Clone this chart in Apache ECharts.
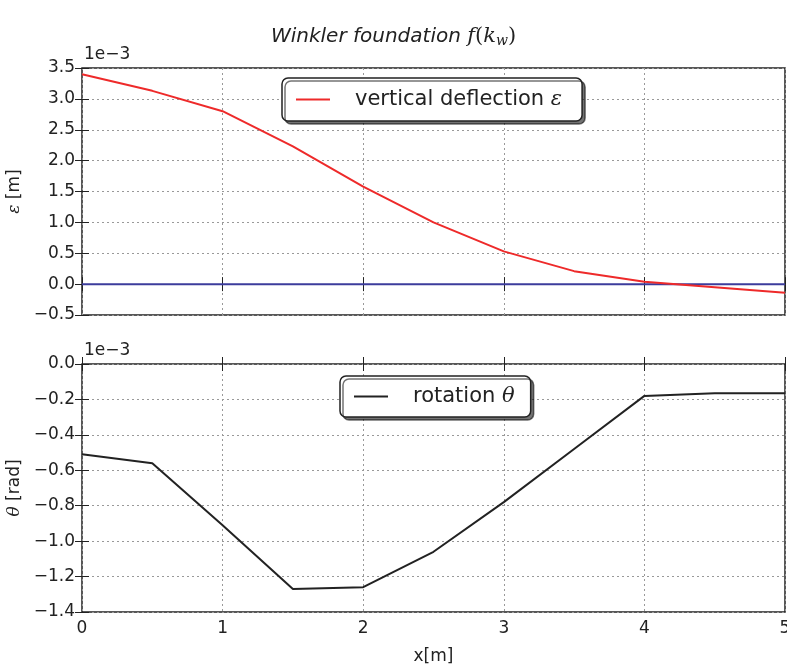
<!DOCTYPE html>
<html>
<head>
<meta charset="utf-8">
<script src="https://cdn.jsdelivr.net/npm/echarts@6/dist/echarts.min.js"></script>
<style>
  html, body { margin: 0; padding: 0; background: #fff; }
  #main { width: 787px; height: 668px; }
</style>
</head>
<body>
<div id="main"></div>
<script>
// x positions [m]
var xs = [0, 0.5, 1, 1.5, 2, 2.5, 3, 3.5, 4, 4.5, 5];
// vertical deflection, in units of 1e-3 m
var deflection = [3.40, 3.13, 2.80, 2.23, 1.58, 1.00, 0.53, 0.21, 0.04, -0.05, -0.14];
// rotation, in units of 1e-3 rad
var rotation = [-0.51, -0.56, -0.91, -1.27, -1.26, -1.06, -0.78, -0.48, -0.18, -0.165, -0.165];
// zero reference line
var zeroLine = [0, 0, 0, 0, 0, 0, 0, 0, 0, 0, 0];

var font = 'DejaVu Sans';
var fmt = function (v) {
    var s = (Math.abs(v) < 1e-9 ? 0 : v).toFixed(1);
    return s.replace('-', '\u2212');
};

var myChart = echarts.init(document.getElementById('main'));

function pairs(ys) {
    return xs.map(function (x, i) { return [x, ys[i]]; });
}

var gridStyle = { show: true, lineStyle: { color: '#999', type: [2, 3], width: 1 } };
var axisLine = { show: false };

function xAx(gi, pos, labels) {
    return {
        type: 'value', gridIndex: gi, position: pos, min: 0, max: 5, interval: 1,
        axisLine: axisLine,
        axisTick: { show: true, inside: true, length: 7, lineStyle: { color: '#222', width: 1 } },
        axisLabel: { show: labels, color: '#222', fontFamily: font, fontSize: 17, margin: 8 },
        splitLine: pos === 'bottom' ? gridStyle : { show: false },
        name: labels ? 'x[m]' : '',
        nameLocation: 'middle', nameGap: 36,
        nameTextStyle: { color: '#222', fontFamily: font, fontSize: 17 }
    };
}
function yAx(gi, pos, min, max, step, name) {
    var left = pos === 'left';
    return {
        type: 'value', gridIndex: gi, position: pos, min: min, max: max, interval: step,
        axisLine: axisLine,
        axisTick: { show: true, inside: true, length: 7, lineStyle: { color: '#222', width: 1 } },
        axisLabel: { show: left, color: '#222', fontFamily: font, fontSize: 17, margin: 7, formatter: fmt },
        splitLine: left ? gridStyle : { show: false },
        name: left ? name : '',
        nameLocation: 'middle', nameGap: 46, nameRotate: 90,
        nameTextStyle: { color: '#222', fontFamily: font, fontSize: 17, rich: {
            m: { fontFamily: 'DejaVu Serif', fontStyle: 'italic', fontSize: 17, color: '#222' }
        } }
    };
}

var legendBase = {
    orient: 'horizontal',
    backgroundColor: '#fff',
    borderColor: '#222',
    borderWidth: 1.5,
    borderRadius: 6,
    shadowColor: 'rgba(0,0,0,0.55)',
    shadowOffsetX: 3,
    shadowOffsetY: 3,
    shadowBlur: 0,
    icon: 'rect',
    itemWidth: 34,
    itemHeight: 2,
    textStyle: {
        color: '#222', fontFamily: font, fontSize: 21,
        rich: {
            g: { width: 20 },
            m: { fontFamily: 'DejaVu Serif', fontStyle: 'italic', fontSize: 21, color: '#222' }
        }
    }
};

var option = {
    backgroundColor: '#fff',
    animation: false,
    title: {
        text: '{a|Winkler foundation }{m|f}{n|(}{m|k}{s|w}{n|)}',
        left: 'center', top: 21,
        textStyle: {
            fontWeight: 'normal',
            rich: {
                a: { fontFamily: font, fontStyle: 'italic', fontWeight: 'normal', fontSize: 20, color: '#222' },
                m: { fontFamily: 'DejaVu Serif', fontStyle: 'italic', fontWeight: 'normal', fontSize: 21, color: '#222' },
                n: { fontFamily: 'DejaVu Serif', fontWeight: 'normal', fontSize: 21, color: '#222' },
                s: { fontFamily: 'DejaVu Serif', fontStyle: 'italic', fontWeight: 'normal', fontSize: 14, color: '#222', verticalAlign: 'bottom', padding: [8, 0, 0, 0] }
            }
        }
    },
    graphic: [
        { type: 'text', left: 84, top: 46, style: { text: '1e\u22123', fontFamily: font, fontSize: 17, fill: '#222' } },
        { type: 'text', left: 84, top: 342, style: { text: '1e\u22123', fontFamily: font, fontSize: 17, fill: '#222' } }
    ],
    legend: [
        Object.assign({}, legendBase, {
            left: 282, top: 78, padding: [11, 20, 11, 14],
            data: ['vertical deflection'],
            formatter: '{g|}vertical deflection {m|\u03b5}'
        }),
        Object.assign({}, legendBase, {
            left: 340, top: 376, padding: [10, 16, 10, 14],
            data: ['rotation'],
            formatter: '{g|}rotation {m|\u03b8}'
        })
    ],
    grid: [
        { left: 82, right: 2, top: 68, height: 247, show: true, outerBoundsMode: 'none', containLabel: false, borderColor: '#222', borderWidth: 1.5, backgroundColor: 'transparent' },
        { left: 82, right: 2, top: 364, height: 248, show: true, outerBoundsMode: 'none', containLabel: false, borderColor: '#222', borderWidth: 1.5, backgroundColor: 'transparent' }
    ],
    xAxis: [
        xAx(0, 'bottom', false), xAx(0, 'top', false),
        xAx(1, 'bottom', true), xAx(1, 'top', false)
    ],
    yAxis: [
        yAx(0, 'left', -0.5, 3.5, 0.5, '{m|\u03b5} [m]'), yAx(0, 'right', -0.5, 3.5, 0.5, ''),
        yAx(1, 'left', -1.4, 0, 0.2, '{m|\u03b8} [rad]'), yAx(1, 'right', -1.4, 0, 0.2, '')
    ],
    series: [
        {
            name: 'zero', type: 'line', xAxisIndex: 0, yAxisIndex: 0,
            data: pairs(zeroLine), symbol: 'none',
            lineStyle: { color: '#3c3c9c', width: 2 }, silent: true
        },
        {
            name: 'vertical deflection', type: 'line', xAxisIndex: 0, yAxisIndex: 0,
            data: pairs(deflection), symbol: 'none',
            itemStyle: { color: '#ee2a2a' },
            lineStyle: { color: '#ee2a2a', width: 2 }
        },
        {
            name: 'rotation', type: 'line', xAxisIndex: 2, yAxisIndex: 2,
            data: pairs(rotation), symbol: 'none',
            itemStyle: { color: '#222' },
            lineStyle: { color: '#222', width: 2 }
        }
    ]
};
myChart.setOption(option);
</script>
</body>
</html>
